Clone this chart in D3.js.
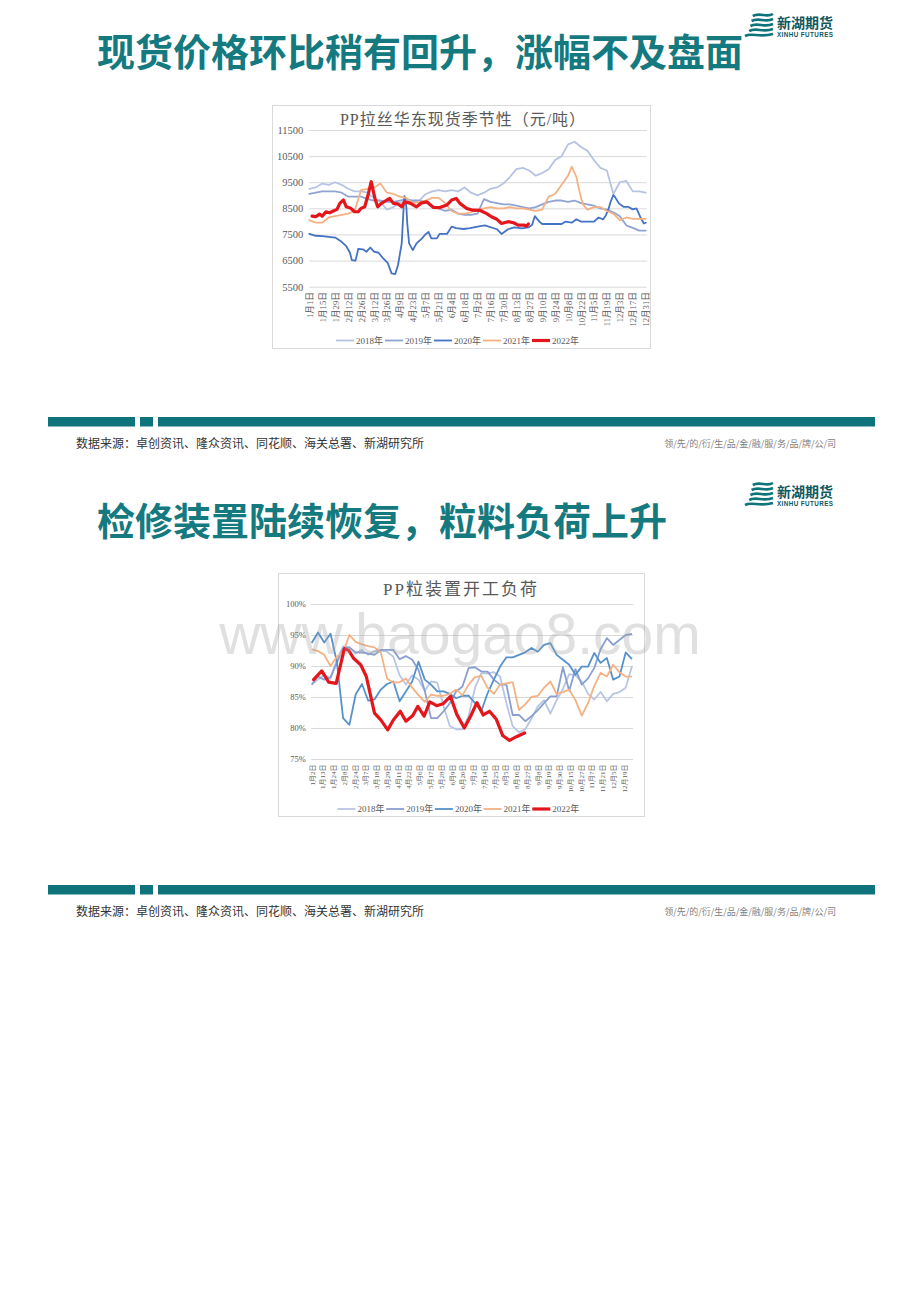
<!DOCTYPE html>
<html><head><meta charset="utf-8">
<script src="https://cdn.jsdelivr.net/npm/d3@7/dist/d3.min.js"></script>
<style>
html,body{margin:0;padding:0;background:#fff;}
svg{display:block;}
</style></head><body>
<svg id="page" width="920" height="1302"></svg>
<script>
// ---------------- DATA ----------------
const pageTitles = ["现货价格环比稍有回升，涨幅不及盘面", "检修装置陆续恢复，粒料负荷上升"];
const sourceText = "数据来源：卓创资讯、隆众资讯、同花顺、海关总署、新湖研究所";
const sloganText = "领/先/的/衍/生/品/金/融/服/务/品/牌/公/司";
const seriesNames = ["2018年", "2019年", "2020年", "2021年", "2022年"];

// Chart 1: PP拉丝华东现货季节性（元/吨）
const chart1Title = "PP拉丝华东现货季节性（元/吨）";
const priceTicks = [5500, 6500, 7500, 8500, 9500, 10500, 11500];
const dateLabels1 = ["1月1日","1月15日","1月29日","2月12日","2月26日","3月12日","3月26日","4月9日","4月23日","5月7日","5月21日","6月4日","6月18日","7月2日","7月16日","7月30日","8月13日","8月27日","9月10日","9月24日","10月8日","10月22日","11月5日","11月19日","12月3日","12月17日","12月31日"];
const dateDays1 = [0,14,28,42,56,70,84,98,112,126,140,154,168,182,196,210,224,238,252,266,280,294,308,322,336,350,364];

const days1 = [0,7,14,21,28,35,42,49,56,63,70,77,84,91,98,105,112,119,126,133,140,147,154,161,168,175,182,189,196,203,210,217,224,231,238,245,252,259,266,273,280,287,294,301,308,315,322,329,336,343,350,357,364];
const price2018 = [9250,9300,9450,9400,9500,9400,9250,9150,9150,9100,8900,8750,8450,8550,8700,8800,8750,8800,9050,9150,9200,9150,9200,9150,9300,9100,9000,9100,9250,9300,9450,9700,10000,10050,9950,9750,9850,10000,10350,10500,10950,11050,10850,10700,10350,10050,9950,9050,9500,9550,9150,9150,9100];
const price2019 = [9050,9100,9150,9150,9150,9100,8950,8950,8950,8850,8800,8800,8750,8750,8800,8850,8800,8800,8750,8600,8500,8400,8450,8300,8250,8250,8300,8850,8750,8700,8650,8650,8600,8550,8500,8550,8650,8750,8800,8800,8750,8800,8700,8650,8600,8500,8450,8350,8200,7850,7750,7650,7650];
const days2020 = [0,7,14,21,28,35,40,44,46,50,53,58,62,66,70,75,80,85,89,93,96,100,102,103,105,106,108,112,116,122,125,129,132,138,141,149,154,159,167,174,182,190,203,208,215,222,230,237,241,244,249,252,259,266,273,277,284,289,294,300,308,313,318,321,324,326,329,331,335,340,345,350,354,358,362,364];
const price2020 = [7520,7450,7440,7410,7380,7220,7050,6800,6520,6500,6950,6930,6840,7000,6840,6800,6580,6400,6010,5985,6330,7160,8500,8970,8560,7925,7160,6900,7160,7350,7480,7600,7350,7350,7520,7520,7800,7740,7710,7740,7800,7850,7700,7520,7700,7770,7730,7770,7860,8200,7990,7900,7900,7900,7900,7990,7950,8080,7990,7990,7990,8150,8080,8240,8500,8750,9010,8920,8690,8560,8560,8460,8500,8180,7920,7950];
const days2021 = [0,7,14,21,28,35,42,49,56,63,70,77,84,91,98,105,112,119,126,133,140,147,154,161,168,175,182,189,196,203,210,217,224,231,238,245,252,259,266,273,280,284,289,292,296,301,308,315,322,329,336,343,350,357,364];
const price2021 = [8050,7950,7950,8150,8200,8250,8300,8400,9200,9250,9300,9450,9100,9050,8950,8900,8700,8750,8800,8900,8900,8700,8400,8300,8300,8350,8430,8500,8550,8500,8500,8550,8500,8500,8450,8400,8450,8950,9050,9400,9750,10100,9700,9200,8650,8450,8550,8550,8400,8300,8050,8150,8100,8100,8100];
const days2022 = [3,7,11,14,18,22,26,30,33,37,40,45,49,53,56,60,64,67,69,71,74,78,84,87,91,96,100,103,109,116,121,127,134,141,149,154,159,163,170,177,185,192,197,203,208,215,221,226,232,235,237];
const price2022 = [8200,8180,8280,8200,8370,8330,8400,8460,8690,8820,8560,8500,8370,8370,8500,8560,9070,9520,9200,8880,8560,8690,8820,8880,8690,8670,8560,8750,8700,8560,8700,8750,8540,8530,8630,8820,8880,8690,8500,8430,8420,8300,8180,8080,7920,7990,7950,7860,7860,7820,7900];

// Chart 2: PP粒装置开工负荷 (weekly, %)
const chart2Title = "PP粒装置开工负荷";
const loadTicks = [75, 80, 85, 90, 95, 100];
const weekLabels2 = ["1月2日","1月13日","1月24日","2月8日","2月24日","3月7日","3月18日","3月29日","4月11日","4月22日","5月6日","5月17日","5月28日","6月9日","6月20日","7月2日","7月14日","7月25日","8月5日","8月16日","8月27日","9月8日","9月19日","9月30日","10月15日","10月27日","11月7日","11月21日","12月5日","12月19日"];
const load2018 = [87.0,87.8,88.6,88.0,91.0,93.2,93.0,92.0,92.6,91.8,92.4,92.5,92.3,91.5,88.5,87.0,88.5,87.8,86.0,87.5,87.3,83.5,80.3,79.8,79.8,82.0,86.5,88.8,88.8,89.0,88.3,84.0,80.3,79.3,79.8,81.5,83.5,84.5,82.3,84.5,86.3,88.7,88.5,87.5,85.5,84.6,85.8,84.3,85.5,85.8,86.5,90.0];
const load2019 = [87.0,88.3,87.8,88.2,90.5,92.8,93.0,92.2,92.2,92.0,91.8,92.6,92.6,92.6,91.1,91.6,91.0,89.4,86.0,81.6,81.6,82.7,84.0,85.9,86.7,89.7,89.8,89.1,89.1,87.8,87.0,87.0,82.1,82.1,81.1,81.9,82.9,84.0,85.1,85.1,89.8,86.0,89.5,87.0,88.0,89.7,92.7,94.5,93.4,94.2,95.0,95.2];
const load2020 = [93.7,95.4,93.8,95.2,90.7,81.6,80.5,85.4,87.1,84.4,84.6,86.2,87.1,87.5,84.3,85.9,87.5,90.7,87.8,87.0,85.9,85.9,85.5,84.8,85.2,85.2,84.0,82.7,85.6,87.8,89.9,91.4,91.4,91.8,92.2,92.9,92.3,93.4,93.7,91.8,91.0,90.2,88.6,89.9,89.9,92.1,90.5,91.3,87.8,88.3,92.2,91.1];
const load2021 = [92.7,92.4,91.8,90.0,91.5,92.2,95.0,93.9,93.5,93.2,93.0,92.2,88.0,87.3,87.4,88.0,86.5,85.3,84.2,85.4,85.2,85.2,85.5,86.2,85.3,87.0,88.2,88.4,86.5,85.5,87.0,87.2,87.4,82.9,83.8,85.0,85.2,86.5,87.5,85.5,85.8,86.2,84.5,82.0,84.0,86.8,88.9,88.3,90.2,89.0,88.3,88.3];
const weeks2022 = [0.3,1.6,2.7,3.9,5.2,5.9,6.7,7.8,8.7,10,11,12.1,13,14.1,15,16.1,16.9,17.9,18.8,19.9,20.9,22.1,23.1,24.3,25.3,26.3,27.3,28.3,29.4,30.4,31.5,32.6,33.9];
const load2022 = [87.8,89.2,87.4,87.2,92.8,92.5,91.2,90.2,88.3,82.4,81.3,79.7,81.3,82.7,81.1,82.0,83.5,81.9,84.2,83.6,83.9,85.1,82.2,80.0,81.9,84.1,82.1,82.7,81.4,78.8,78.0,78.6,79.2];

// ---------------- STYLE ----------------
const TEAL = "#0e737a";
const TITLE_TEAL = "#157a80";
const colors1 = ["#b6c3e3", "#8fa3d4", "#4472c4", "#f4b183", "#e3161c"];
const colors2 = ["#b8c6e5", "#8a9fd1", "#5592cc", "#f4b183", "#e3161c"];
const widths = [1.8, 1.8, 1.8, 1.8, 3.2];
const SERIF = "'Liberation Serif','Noto Sans CJK SC',serif";
const CJK = "'Noto Sans CJK SC','Noto Sans CJK JP',sans-serif";

const svg = d3.select("#page");
svg.append("rect").attr("width", 920).attr("height", 1302).attr("fill", "#fff");

function header(offY, title) {
  svg.append("text").attr("x", 97).attr("y", 66 + offY)
    .attr("font-family", CJK).attr("font-weight", 700).attr("font-size", 38)
    .attr("fill", TITLE_TEAL).text(title);
  // logo
  const g = svg.append("g").attr("transform", `translate(0,${offY})`);
  for (let k = 0; k < 5; k++) {
    const y = 15 + k * 5;
    const x0 = 748 + (4 - k) * 1.2 - (k === 4 ? 3 : 0);
    g.append("path")
      .attr("d", `M${x0},${y + 1} C${x0 + 7},${y - 3} ${x0 + 14},${y + 3} ${773},${y - 1}`)
      .attr("fill", "none").attr("stroke", TEAL).attr("stroke-width", 2.6);
  }
  g.append("text").attr("x", 777).attr("y", 28).attr("font-family", CJK)
    .attr("font-weight", 700).attr("font-size", 14).attr("fill", "#11585e").text("新湖期货");
  g.append("text").attr("x", 777).attr("y", 37).attr("font-family", "'Liberation Sans',Arial,sans-serif")
    .attr("font-weight", 700).attr("font-size", 6.3).attr("fill", "#11585e")
    .attr("textLength", 56).text("XINHU FUTURES");
}

function footer(offY) {
  const y = 417 + offY;
  svg.append("rect").attr("x", 48).attr("y", y).attr("width", 87).attr("height", 9.5).attr("fill", TEAL);
  svg.append("rect").attr("x", 140).attr("y", y).attr("width", 13).attr("height", 9.5).attr("fill", TEAL);
  svg.append("rect").attr("x", 158).attr("y", y).attr("width", 717).attr("height", 9.5).attr("fill", TEAL);
  svg.append("text").attr("x", 76).attr("y", 448 + offY).attr("font-family", CJK)
    .attr("font-size", 12).attr("fill", "#333").text(sourceText);
  svg.append("text").attr("x", 836).attr("y", 447 + offY).attr("text-anchor", "end")
    .attr("font-family", CJK).attr("font-size", 9).attr("fill", "#808080").text(sloganText);
}

function legend(g, colors, x0, y, step) {
  seriesNames.forEach((name, i) => {
    const x = x0 + i * step;
    g.append("line").attr("x1", x).attr("x2", x + 18).attr("y1", y).attr("y2", y)
      .attr("stroke", colors[i]).attr("stroke-width", widths[i]);
    g.append("text").attr("x", x + 20).attr("y", y + 3.2).attr("font-family", SERIF)
      .attr("font-size", 9).attr("fill", "#595959").text(name);
  });
}

header(0, pageTitles[0]);
header(469, pageTitles[1]);
footer(0);
footer(468);

// ---------------- CHART 1 ----------------
{
  const g = svg.append("g");
  g.append("rect").attr("x", 272.5).attr("y", 105.5).attr("width", 378).attr("height", 243)
    .attr("fill", "#fff").attr("stroke", "#d9d9d9");
  g.append("text").attr("x", 463).attr("y", 125).attr("text-anchor", "middle")
    .attr("font-family", SERIF).attr("font-size", 16).attr("letter-spacing", 1)
    .attr("fill", "#595959").text(chart1Title);

  const x = d3.scaleLinear().domain([0, 364]).range([309.3, 645.7]);
  const y = d3.scaleLinear().domain([5500, 11500]).range([286.7, 130]);

  const yAxis = g.append("g").attr("transform", "translate(309.3,0)")
    .call(d3.axisLeft(y).tickValues(priceTicks).tickSize(-337.4).tickPadding(6).tickFormat(d3.format("d")));
  yAxis.select(".domain").remove();
  yAxis.selectAll("line").attr("stroke", "#d9d9d9");
  yAxis.selectAll("text").attr("font-family", SERIF).attr("font-size", 10.5).attr("fill", "#595959");

  const xAxis = g.append("g").attr("transform", `translate(0,${286.7})`)
    .call(d3.axisBottom(x).tickValues(dateDays1).tickSize(0).tickFormat((d, i) => dateLabels1[i]));
  xAxis.select(".domain").remove();
  xAxis.selectAll("text").attr("font-family", SERIF).attr("font-size", 8.6).attr("fill", "#595959")
    .attr("transform", "rotate(-90)").attr("x", -5.5).attr("y", 0).attr("dy", "0.35em")
    .attr("text-anchor", "end");

  const series = [
    [days1, price2018], [days1, price2019], [days2020, price2020], [days2021, price2021], [days2022, price2022]
  ];
  const line = d3.line().x(d => x(d[0])).y(d => y(d[1]));
  series.forEach(([ds, vs], i) => {
    g.append("path").datum(ds.map((d, j) => [d, vs[j]]))
      .attr("d", line).attr("fill", "none").attr("stroke", colors1[i])
      .attr("stroke-width", widths[i]).attr("stroke-linejoin", "round").attr("stroke-linecap", "round");
  });
  legend(g, colors1, 336, 340.5, 49);
}

// ---------------- CHART 2 ----------------
{
  const g = svg.append("g");
  g.append("rect").attr("x", 278.5).attr("y", 573.5).attr("width", 366).attr("height", 243)
    .attr("fill", "#fff").attr("stroke", "#d9d9d9");
  g.append("text").attr("x", 461).attr("y", 595).attr("text-anchor", "middle")
    .attr("font-family", SERIF).attr("font-size", 17).attr("letter-spacing", 2)
    .attr("fill", "#595959").text(chart2Title);

  const x = d3.scaleLinear().domain([0, 51]).range([311.7, 632]);
  const xLab = d3.scalePoint().domain(weekLabels2).range([311.7, 623.7]);
  const y = d3.scaleLinear().domain([75, 100]).range([759, 604]);

  const yAxis = g.append("g").attr("transform", "translate(311.3,0)")
    .call(d3.axisLeft(y).tickValues(loadTicks).tickSize(-321.7).tickPadding(5.5).tickFormat(d => d + "%"));
  yAxis.select(".domain").remove();
  yAxis.selectAll("line").attr("stroke", "#d9d9d9");
  yAxis.selectAll("text").attr("font-family", SERIF).attr("font-size", 8.5).attr("fill", "#595959");

  const xAxis = g.append("g").attr("transform", "translate(0,759)")
    .call(d3.axisBottom(xLab).tickSize(0));
  xAxis.select(".domain").remove();
  xAxis.selectAll("text").attr("font-family", SERIF).attr("font-size", 7).attr("fill", "#595959")
    .attr("transform", "rotate(-90)").attr("x", -5.5).attr("y", 0).attr("dy", "0.35em")
    .attr("text-anchor", "end");

  const line = d3.line().x(d => x(d[0])).y(d => y(d[1]));
  const series = [load2018, load2019, load2020, load2021];
  series.forEach((vs, i) => {
    g.append("path").datum(vs.map((v, j) => [j, v]))
      .attr("d", line).attr("fill", "none").attr("stroke", colors2[i])
      .attr("stroke-width", widths[i]).attr("stroke-linejoin", "round");
  });
  g.append("path").datum(weeks2022.map((w, j) => [w, load2022[j]]))
    .attr("d", line).attr("fill", "none").attr("stroke", colors2[4])
    .attr("stroke-width", widths[4]).attr("stroke-linejoin", "round").attr("stroke-linecap", "round");

  legend(g, colors2, 337.5, 809, 48.7);

  // watermark (overlaps the axis area exactly as in the reference)
  svg.append("text").attr("x", 460).attr("y", 654).attr("text-anchor", "middle")
    .attr("font-family", "'Liberation Sans',Arial,sans-serif").attr("font-size", 57)
    .attr("fill", "#a0a0a0").attr("fill-opacity", 0.33).text("www.baogao8.com");
}
</script></body></html>
